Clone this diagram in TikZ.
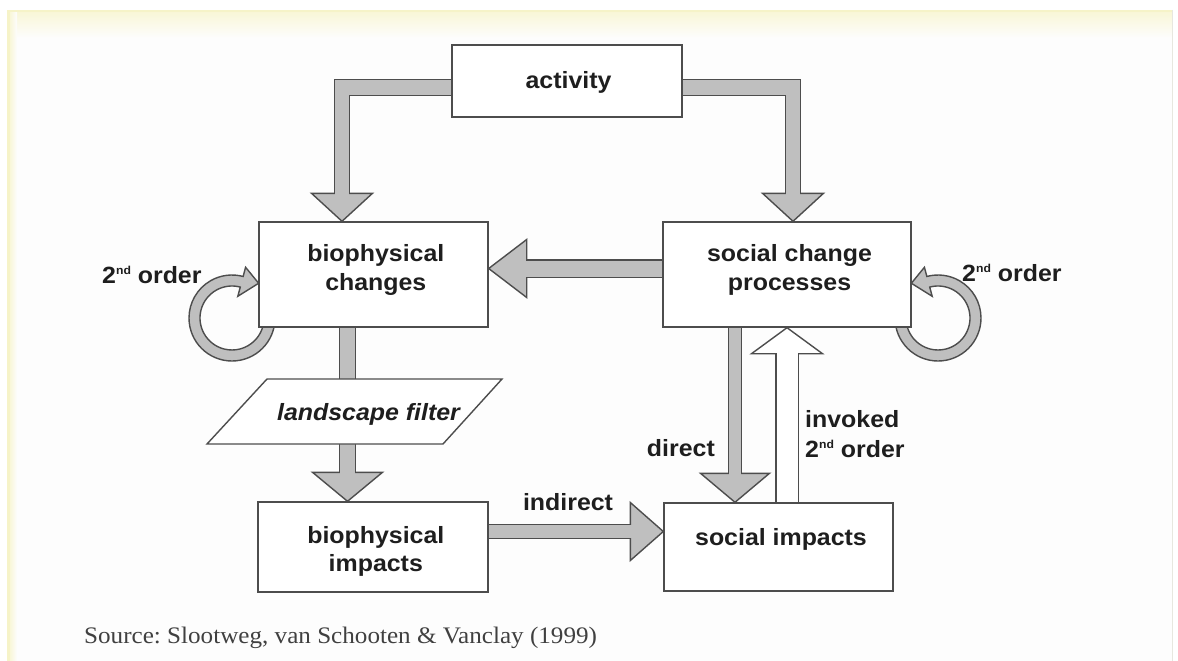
\documentclass[tikz,border=0pt]{standalone}
\usepackage{fontspec}
\setmainfont{Liberation Sans}[FakeStretch=1.06]
\newfontfamily\srcfont{Liberation Serif}[FakeStretch=1.06]
\usetikzlibrary{calc}
\pgfdeclarelayer{bg}
\pgfdeclarelayer{arr}
\pgfsetlayers{bg,arr,main}
\definecolor{edge}{HTML}{4D4D4D}
\definecolor{fillg}{HTML}{BFBFBF}
\definecolor{yel}{HTML}{F6F3C8}
\definecolor{paper}{HTML}{FDFDFD}
\definecolor{ink}{HTML}{1E1E1E}
\frenchspacing
\tikzset{
  box/.style={draw=edge, line width=1.4pt, fill=white, inner sep=0pt},
  lbl/.style={font=\bfseries\fontsize{23.5}{28}\selectfont, text=ink, inner sep=0pt, anchor=base},
  ring/.style={fill=fillg, draw=edge, line width=1.4pt, line join=miter},
}
\newcommand\fatarrow[6]{%
  \draw[draw=edge, line width=#5+2.8pt, line join=miter] #2;
  \draw[fill=#1, draw=edge, line width=1.4pt, line join=miter]
    ($(#3)!#6!90:(#4)$) -- (#4) -- ($(#3)!#6!-90:(#4)$) -- cycle;
  \draw[draw=#1, line width=#5, line join=miter] #2 -- ($(#3)!1.6pt!(#4)$);
}
\newcommand\secondorder{2\raisebox{9pt}{\fontsize{11.5}{12}\selectfont nd} order}
\begin{document}
\begin{tikzpicture}[x=1pt,y=-1pt]
\useasboundingbox (0,0) rectangle (1178,661);
% page and frame
\begin{pgfonlayer}{bg}
  \fill[white] (0,0) rectangle (1178,661);
  \fill[paper] (7,10) rectangle (1172,661);
  \fill[yel] (7,10) rectangle (1172,13);
  \shade[top color=yel!70, bottom color=paper] (7,13) rectangle (1172,38);
  \fill[yel] (7,10) rectangle (10,661);
  \shade[left color=yel!70, right color=paper] (10,13) rectangle (17,661);
  \draw[yel!50!gray!35, line width=0.8pt] (1172,10) -- (1172,661);
\end{pgfonlayer}

% boxes
\node[box, minimum width=230pt, minimum height=72pt]  (act) at (567,81) {};
\node[box, minimum width=229pt, minimum height=105pt] (bc)  at (373.5,274.5) {};
\node[box, minimum width=248pt, minimum height=105pt] (scp) at (787,274.5) {};
\node[box, minimum width=230pt, minimum height=90pt]  (bi)  at (373,547) {};
\node[box, minimum width=229pt, minimum height=88pt]  (si)  at (778.5,547) {};
\draw[box] (267,379) -- (502,379) -- (443,444) -- (207,444) -- cycle;
\coordinate (lfT) at (354.5,379);
\coordinate (lfB) at (325,444);

% box texts
\node[lbl] (tact)  at (568.5,88.3) {activity};
\node[lbl] (tbc1)  at (375.8,261.7) {biophysical};
\node[lbl] (tbc2)  at (375.8,290) {changes};
\node[lbl] (tscp1) at (789.5,261.7) {social change};
\node[lbl] (tscp2) at (789.5,290) {processes};
\node[lbl] (tbi1)  at (375.8,543.3) {biophysical};
\node[lbl] (tbi2)  at (375.8,571.7) {impacts};
\node[lbl] (tsi)   at (781,545) {social impacts};
\node[lbl, font=\bfseries\itshape\fontsize{23.5}{28}\selectfont] (lf) at (368.5,420) {landscape filter};

% labels
\node[lbl, anchor=base west] (so1) at (102,283) {\secondorder};
\node[lbl, anchor=base west] (so2) at (962,281) {\secondorder};
\node[lbl, anchor=base east] (ldir) at (715,456) {direct};
\node[lbl, anchor=base west] (linv1) at (805,427) {invoked};
\node[lbl, anchor=base west] (linv2) at (805,457) {\secondorder};
\node[lbl] (lind) at (568,510) {indirect};
\node[font=\srcfont\fontsize{23.7}{28}\selectfont, text=ink!85, inner sep=0pt, anchor=base west] (src)
  at (84,643.5) {Source: Slootweg, van Schooten \& Vanclay (1999)};

% arrows
\begin{pgfonlayer}{arr}
  % activity -> biophysical changes
  \coordinate (a1s) at ([shift={(3pt,-6.5pt)}]act.west);
  \coordinate (a1t) at ([xshift=-31.5pt]bc.north);
  \coordinate (a1b) at ([yshift=28pt]a1t);
  \fatarrow{fillg}{(a1s) -| (a1b)}{a1b}{a1t}{14pt}{30.5pt}
  % activity -> social change processes
  \coordinate (a2s) at ([shift={(-3pt,-6.5pt)}]act.east);
  \coordinate (a2t) at ([xshift=6pt]scp.north);
  \coordinate (a2b) at ([yshift=28pt]a2t);
  \fatarrow{fillg}{(a2s) -| (a2b)}{a2b}{a2t}{14pt}{30.5pt}
  % social change processes -> biophysical changes
  \coordinate (a3s) at ([shift={(3pt,6pt)}]scp.west);
  \coordinate (a3t) at ([yshift=6pt]bc.east);
  \coordinate (a3b) at ([xshift=38pt]a3t);
  \fatarrow{fillg}{(a3s) -- (a3b)}{a3b}{a3t}{16pt}{29pt}
  % biophysical changes -> landscape filter
  \coordinate (a4s) at ([shift={(-26pt,3pt)}]bc.south);
  \draw[draw=edge, line width=15pt+2.8pt] (a4s) -- ($(a4s |- lfT)+(0,2)$);
  \draw[draw=fillg, line width=15pt] (a4s) -- ($(a4s |- lfT)+(0,2)$);
  % landscape filter -> biophysical impacts
  \coordinate (a5s) at ($(a4s |- lfB)+(0,-2)$);
  \coordinate (a5t) at ([xshift=-25.5pt]bi.north);
  \coordinate (a5b) at ([yshift=29pt]a5t);
  \fatarrow{fillg}{(a5s) -- (a5b)}{a5b}{a5t}{15pt}{35pt}
  % indirect
  \coordinate (a6s) at ([shift={(-3pt,15.5pt)}]bi.east);
  \coordinate (a6t) at ([yshift=15.5pt]si.west);
  \coordinate (a6b) at ([xshift=-33pt]a6t);
  \fatarrow{fillg}{(a6s) -- (a6b)}{a6b}{a6t}{13pt}{29pt}
  % direct
  \coordinate (a7t) at ([xshift=-43.5pt]si.north);
  \coordinate (a7s) at ($(a7t |- scp.south)+(0,-3)$);
  \coordinate (a7b) at ([yshift=29pt]a7t);
  \fatarrow{fillg}{(a7s) -- (a7b)}{a7b}{a7t}{12pt}{34.5pt}
  % invoked 2nd order
  \coordinate (a8t) at (scp.south);
  \coordinate (a8b) at ([yshift=-26pt]a8t);
  \coordinate (a8s) at ($(a8t |- si.north)+(0,3)$);
  \fatarrow{white}{(a8s) -- (a8b)}{a8b}{a8t}{21pt}{35.5pt}
  % 2nd order loops
  \begin{scope}[shift={(232,318)}]
    \draw[ring] (0:43) arc[start angle=0, end angle=285, radius=43]
      -- (285:52.5) -- ($(285:37.5)+(5:17)$) -- (285:22.5) -- (285:32)
      arc[start angle=285, end angle=0, radius=32] -- cycle;
  \end{scope}
  \begin{scope}[shift={(938,318)}]
    \draw[ring] (180:43) arc[start angle=180, end angle=-105, radius=43]
      -- (-105:52.5) -- ($(-105:37.5)+(175:17)$) -- (-105:22.5) -- (-105:32)
      arc[start angle=-105, end angle=180, radius=32] -- cycle;
  \end{scope}
\end{pgfonlayer}
\end{tikzpicture}
\end{document}
